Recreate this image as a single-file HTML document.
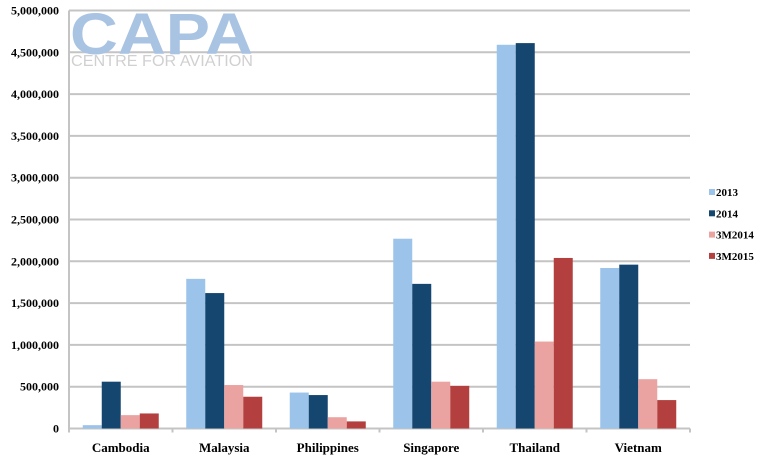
<!DOCTYPE html>
<html><head><meta charset="utf-8"><style>
html,body{margin:0;padding:0;background:#fff;}
svg{display:block;font-family:"Liberation Serif",serif;}
</style></head><body>
<svg id="chart" width="767" height="457" viewBox="0 0 767 457">
<g id="grid"></g>
<g id="yticks"></g>
<g>
<text x="70" y="54" font-family="Liberation Sans, sans-serif" font-weight="bold" font-size="58" fill="#a9c3e3" textLength="183" lengthAdjust="spacingAndGlyphs">CAPA</text>
<text x="71" y="66" font-family="Liberation Sans, sans-serif" font-size="16" fill="#d0d0d0" textLength="182" lengthAdjust="spacingAndGlyphs">CENTRE FOR AVIATION</text>
</g>
<g id="bars"></g>
<g id="axis"></g>
<g id="legend"></g>
</svg>
<script>
const categories = ["Cambodia","Malaysia","Philippines","Singapore","Thailand","Vietnam"];
const seriesNames = ["2013","2014","3M2014","3M2015"];
const s2013 = [40000,1790000,430000,2270000,4590000,1920000];
const s2014 = [560000,1620000,400000,1730000,4610000,1960000];
const s3M2014 = [160000,520000,135000,560000,1040000,590000];
const s3M2015 = [180000,380000,85000,510000,2040000,340000];
const yTicks = [0,500000,1000000,1500000,2000000,2500000,3000000,3500000,4000000,4500000,5000000];
const colors = ["#9cc3ea","#154670","#eba3a1","#b3403f"];
const series = [s2013,s2014,s3M2014,s3M2015];
const NS="http://www.w3.org/2000/svg";
const x0=69,x1=690,y0=428.5,yTop=10.5,yMax=5000000;
const y=v=>y0-(v/yMax)*(y0-yTop);
const band=(x1-x0)/categories.length;
const bw=19,pad=(band-4*bw)/2;
function mk(t,a,p){const e=document.createElementNS(NS,t);for(const k in a)e.setAttribute(k,a[k]);p.appendChild(e);return e;}
const grid=document.getElementById('grid'),yt=document.getElementById('yticks');
yTicks.forEach(v=>{
  const l=mk('line',{x1:x0,x2:x1,y1:y(v),y2:y(v),stroke:'#c4c4c4','stroke-width':2},grid);
  
  
  const t=mk('text',{x:x0-10,y:y(v)+4,'text-anchor':'end','font-size':12,'font-weight':'bold',fill:'#000'},yt);
  t.textContent=v.toLocaleString('en-US');
  
  
});
const yl=mk('line',{x1:x0,x2:x0,y1:yTop,y2:y0+3,stroke:'#c4c4c4','stroke-width':2},grid);


const bars=document.getElementById('bars'),ax=document.getElementById('axis');
categories.forEach((c,i)=>{
  const bx=x0+i*band;
  series.forEach((s,j)=>{
    const r=mk('rect',{x:bx+pad+j*bw,y:y(s[i]),width:bw,height:y0-y(s[i]),fill:colors[j]},bars);
    
    
  });
  const t=mk('text',{x:bx+band/2,y:452,'text-anchor':'middle','font-size':13,'font-weight':'bold',fill:'#000'},ax);
  t.textContent=c;
  
  
});
for(let i=0;i<=categories.length;i++){
  const tk=mk('line',{x1:x0+i*band,x2:x0+i*band,y1:y0,y2:y0+4,stroke:'#c4c4c4','stroke-width':2},ax);
  
  
}
const lg=document.getElementById('legend');
seriesNames.forEach((n,j)=>{
  const yy=196+j*21.3;
  const sw=mk('rect',{x:709,y:yy-7,width:6,height:6,fill:colors[j]},lg);
  
  
  const t=mk('text',{x:716,y:yy,'font-size':11,'font-weight':'bold',fill:'#000'},lg);
  t.textContent=n;
  
  
});
</script>
</body></html>
